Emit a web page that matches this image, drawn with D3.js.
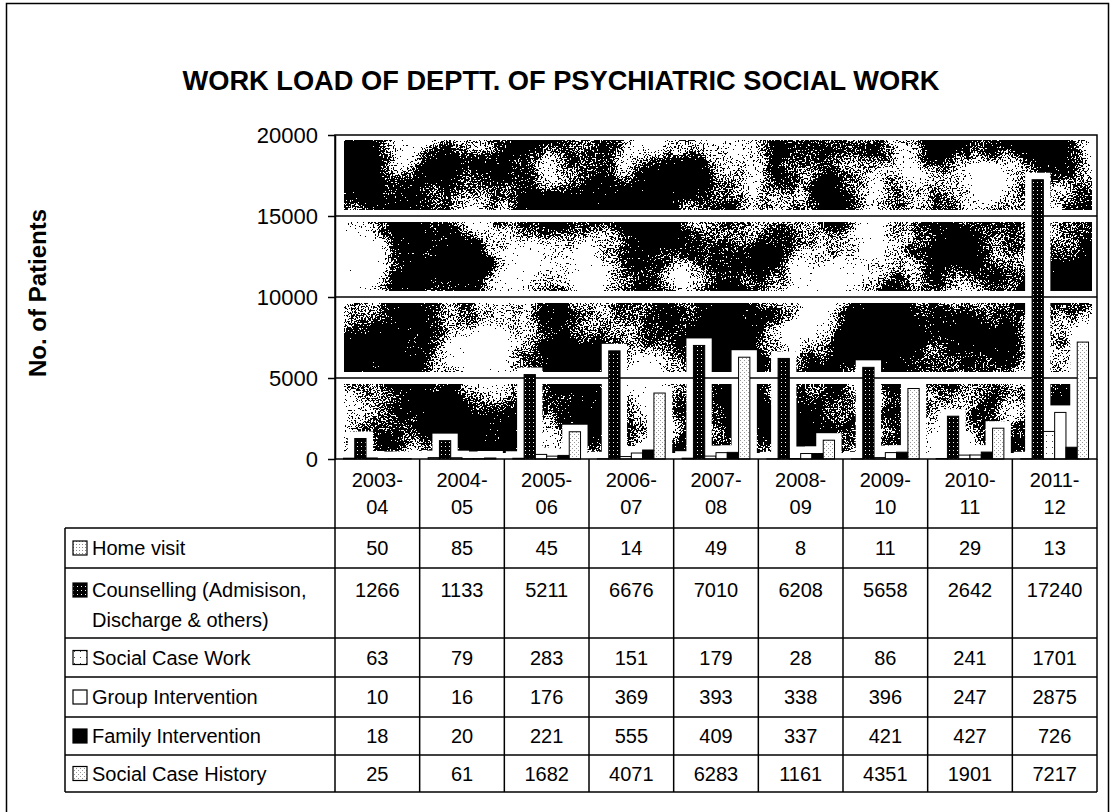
<!DOCTYPE html>
<html>
<head>
<meta charset="utf-8">
<title>Work load of Deptt. of Psychiatric Social Work</title>
<script src="https://cdn.jsdelivr.net/npm/d3@7"></script>
<style>
    body { margin: 0; background: #fff; }
    svg { display: block; font-family: "Liberation Sans", Arial, sans-serif; }
</style>
</head>
<body>
<svg id="chart" width="1112" height="812"></svg>
<script>
// data
const categories = ['2003-04', '2004-05', '2005-06', '2006-07', '2007-08', '2008-09', '2009-10', '2010-11', '2011-12'];
const seriesKeys = ['homeVisit', 'counselling', 'socialCaseWork', 'groupIntervention', 'familyIntervention', 'socialCaseHistory'];
const seriesLabels = [
    ['Home visit'],
    ['Counselling (Admisison,', 'Discharge & others)'],
    ['Social Case Work'],
    ['Group Intervention'],
    ['Family Intervention'],
    ['Social Case History']
];
const homeVisit = [50, 85, 45, 14, 49, 8, 11, 29, 13];
const counselling = [1266, 1133, 5211, 6676, 7010, 6208, 5658, 2642, 17240];
const socialCaseWork = [63, 79, 283, 151, 179, 28, 86, 241, 1701];
const groupIntervention = [10, 16, 176, 369, 393, 338, 396, 247, 2875];
const familyIntervention = [18, 20, 221, 555, 409, 337, 421, 427, 726];
const socialCaseHistory = [25, 61, 1682, 4071, 6283, 1161, 4351, 1901, 7217];
const yTicks = [0, 5000, 10000, 15000, 20000];

const seriesValues = [homeVisit, counselling, socialCaseWork, groupIntervention, familyIntervention, socialCaseHistory];

// layout
const plot = { left: 335, right: 1097, top: 135, bottom: 459 };
const headerBottom = 528;
const rowHeights = [40, 70, 39, 40, 38, 37];
const tableLeft = 65;
const halo = 7;

const svg = d3.select('#chart');
const defs = svg.append('defs');

// blotchy scanned texture behind the bars
const marble = defs.append('filter')
    .attr('id', 'marble')
    .attr('x', 0).attr('y', 0).attr('width', 1).attr('height', 1)
    .attr('color-interpolation-filters', 'sRGB');
marble.append('feTurbulence')
    .attr('type', 'fractalNoise').attr('baseFrequency', 0.013)
    .attr('numOctaves', 4).attr('seed', 4).attr('result', 'blobsRaw');
marble.append('feColorMatrix')
    .attr('in', 'blobsRaw').attr('type', 'matrix')
    .attr('values', '1 0 0 0 0  1 0 0 0 0  1 0 0 0 0  0 0 0 0 1')
    .attr('result', 'blobs');
marble.append('feTurbulence')
    .attr('type', 'fractalNoise').attr('baseFrequency', 0.6)
    .attr('numOctaves', 2).attr('seed', 9).attr('result', 'grainRaw');
marble.append('feColorMatrix')
    .attr('in', 'grainRaw').attr('type', 'matrix')
    .attr('values', '1 0 0 0 0  1 0 0 0 0  1 0 0 0 0  0 0 0 0 1')
    .attr('result', 'grain');
marble.append('feComposite')
    .attr('in', 'blobs').attr('in2', 'grain')
    .attr('operator', 'arithmetic')
    .attr('k1', 0).attr('k2', 2.0).attr('k3', 1.2).attr('k4', -1.19)
    .attr('result', 'mix');
const threshold = marble.append('feComponentTransfer').attr('in', 'mix');
['feFuncR', 'feFuncG', 'feFuncB'].forEach(f => {
    threshold.append(f).attr('type', 'discrete').attr('tableValues', '0 1');
});

// bar fills
const pattern = (id, size, bg, dots, dotColor) => {
    const p = defs.append('pattern')
        .attr('id', id)
        .attr('patternUnits', 'userSpaceOnUse')
        .attr('width', size).attr('height', size);
    p.append('rect').attr('width', size).attr('height', size).attr('fill', bg);
    dots.forEach(([dx, dy]) => {
        p.append('rect').attr('x', dx).attr('y', dy)
            .attr('width', 1).attr('height', 1).attr('fill', dotColor);
    });
};
pattern('dotsLight', 3, '#fff', [[1, 1]], '#888');
pattern('dotsDark', 4, '#000', [[1, 2]], '#fff');
pattern('dotsSparse', 6, '#fff', [[2, 3]], '#444');
pattern('gridLight', 4, '#fff', [[0, 0], [2, 2]], '#999');

const seriesFill = {
    homeVisit: 'url(#dotsLight)',
    counselling: 'url(#dotsDark)',
    socialCaseWork: 'url(#dotsSparse)',
    groupIntervention: '#fff',
    familyIntervention: '#000',
    socialCaseHistory: 'url(#gridLight)'
};

// scales
const x = d3.scaleBand()
    .domain(categories)
    .range([plot.left, plot.right]);
const xInner = d3.scaleBand()
    .domain(seriesKeys)
    .range([0, x.bandwidth()])
    .paddingOuter(0.75);
const y = d3.scaleLinear()
    .domain([0, 20000])
    .range([plot.bottom, plot.top]);

// outer frame
svg.append('rect')
    .attr('x', 6.5).attr('y', 3.5)
    .attr('width', 1102).attr('height', 900)
    .attr('fill', 'none').attr('stroke', '#000').attr('stroke-width', 1.5);

svg.append('text')
    .attr('x', 561).attr('y', 90)
    .attr('text-anchor', 'middle')
    .attr('font-size', 27).attr('font-weight', 'bold')
    .attr('textLength', 757).attr('lengthAdjust', 'spacingAndGlyphs')
    .text('WORK LOAD OF DEPTT. OF PSYCHIATRIC SOCIAL WORK');

svg.append('text')
    .attr('transform', 'translate(38, 293) rotate(-90)')
    .attr('text-anchor', 'middle')
    .attr('dy', '0.35em')
    .attr('font-size', 24).attr('font-weight', 'bold')
    .text('No. of Patients');

// plot area
svg.append('rect')
    .attr('x', plot.left).attr('y', plot.top)
    .attr('width', plot.right - plot.left).attr('height', plot.bottom - plot.top)
    .attr('fill', '#fff');
svg.append('rect')
    .attr('x', plot.left + 9).attr('y', plot.top + 5)
    .attr('width', plot.right - plot.left - 14).attr('height', plot.bottom - plot.top - 11)
    .attr('filter', 'url(#marble)');

const gridTicks = yTicks.filter(t => t > 0 && t < 20000);
svg.append('g').selectAll('line')
    .data(gridTicks)
    .join('line')
    .attr('x1', plot.left).attr('x2', plot.right)
    .attr('y1', d => y(d)).attr('y2', d => y(d))
    .attr('stroke', '#fff').attr('stroke-width', 12);

const bars = categories.flatMap((cat, i) => seriesKeys.map((key, j) => ({
    cat, key, value: seriesValues[j][i]
})));

svg.append('g').selectAll('rect')
    .data(bars)
    .join('rect')
    .attr('x', d => x(d.cat) + xInner(d.key) - halo)
    .attr('y', d => y(d.value) - halo)
    .attr('width', xInner.bandwidth() + halo * 2)
    .attr('height', d => plot.bottom - y(d.value) + halo)
    .attr('fill', '#fff');

svg.append('g').selectAll('line')
    .data(gridTicks)
    .join('line')
    .attr('x1', plot.left).attr('x2', plot.right)
    .attr('y1', d => y(d)).attr('y2', d => y(d))
    .attr('stroke', '#000').attr('stroke-width', 1.5);

svg.append('g').selectAll('rect')
    .data(bars)
    .join('rect')
    .attr('x', d => x(d.cat) + xInner(d.key))
    .attr('y', d => y(d.value))
    .attr('width', xInner.bandwidth())
    .attr('height', d => plot.bottom - y(d.value))
    .attr('fill', d => seriesFill[d.key])
    .attr('stroke', '#000').attr('stroke-width', 1);

svg.append('rect')
    .attr('x', plot.left).attr('y', plot.top)
    .attr('width', plot.right - plot.left).attr('height', plot.bottom - plot.top)
    .attr('fill', 'none').attr('stroke', '#000').attr('stroke-width', 1.5);

const yAxis = svg.append('g')
    .attr('transform', `translate(${plot.left},0)`)
    .call(d3.axisLeft(y)
        .tickValues(yTicks)
        .tickFormat(d3.format('d'))
        .tickSize(7).tickSizeOuter(0).tickPadding(10));
yAxis.select('.domain').attr('stroke-width', 1.5);
yAxis.selectAll('line').attr('stroke-width', 1.5);
yAxis.selectAll('text')
    .attr('font-size', 22)
    .attr('font-family', '"Liberation Sans", Arial, sans-serif')
    .attr('fill', '#000');

// data table
const rowTops = rowHeights.reduce((acc, h) => acc.concat(acc[acc.length - 1] + h), [headerBottom]);
const table = svg.append('g')
    .attr('stroke', '#000').attr('stroke-width', 1.5);
table.selectAll('line.col')
    .data(categories.map(c => x(c)).concat(plot.right))
    .join('line')
    .attr('class', 'col')
    .attr('x1', d => d).attr('x2', d => d)
    .attr('y1', plot.bottom).attr('y2', rowTops[rowTops.length - 1]);
table.selectAll('line.row')
    .data(rowTops)
    .join('line')
    .attr('class', 'row')
    .attr('x1', tableLeft).attr('x2', plot.right)
    .attr('y1', d => d).attr('y2', d => d);
table.append('line')
    .attr('x1', tableLeft).attr('x2', tableLeft)
    .attr('y1', headerBottom).attr('y2', rowTops[rowTops.length - 1]);

const header = svg.append('g')
    .attr('font-size', 20).attr('text-anchor', 'middle');
categories.forEach(cat => {
    const [a, b] = cat.split('-');
    const cx = x(cat) + x.bandwidth() / 2;
    const t = header.append('text').attr('y', 480);
    t.append('tspan').attr('x', cx).attr('dy', '0.35em').text(`${a}-`);
    t.append('tspan').attr('x', cx).attr('dy', 27).text(b);
});

const rows = svg.append('g').attr('font-size', 20);
seriesKeys.forEach((key, j) => {
    const top = rowTops[j];
    const firstLine = seriesLabels[j].length > 1 ? top + 22 : top + rowHeights[j] / 2;

    rows.append('rect')
        .attr('x', 73).attr('y', firstLine - 7)
        .attr('width', 14).attr('height', 14)
        .attr('fill', seriesFill[key])
        .attr('stroke', '#000').attr('stroke-width', 1.2);

    const label = rows.append('text').attr('y', firstLine);
    seriesLabels[j].forEach((line, k) => {
        label.append('tspan')
            .attr('x', 92)
            .attr('dy', k === 0 ? '0.35em' : 30)
            .text(line);
    });

    rows.selectAll(null)
        .data(seriesValues[j])
        .join('text')
        .attr('x', (d, i) => x(categories[i]) + x.bandwidth() / 2)
        .attr('y', firstLine)
        .attr('dy', '0.35em')
        .attr('text-anchor', 'middle')
        .text(d => d);
});
</script>
</body>
</html>
